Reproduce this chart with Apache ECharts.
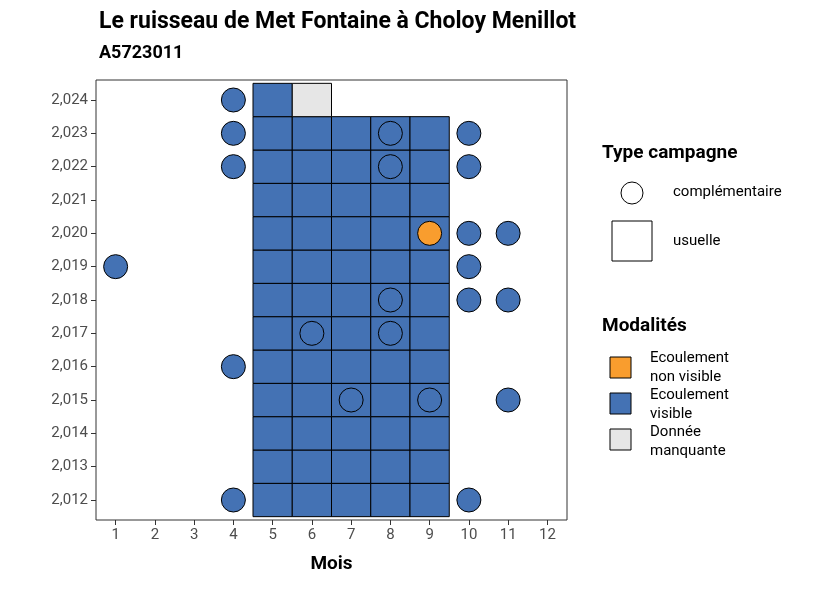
<!DOCTYPE html>
<html><head><meta charset="utf-8">
<script src="https://cdn.jsdelivr.net/npm/echarts@6/dist/echarts.min.js"></script>
<style>body{margin:0}#c{width:826px;height:590px}</style></head>
<body><div id="c"></div>
<script>
var months = [1,2,3,4,5,6,7,8,9,10,11,12];
var years = [2012,2013,2014,2015,2016,2017,2018,2019,2020,2021,2022,2023,2024];
// tiles (usuelle): [mois, annee, modalite]
var tiles = [];
years.slice(0, 12).forEach(function (y) {
    [5,6,7,8,9].forEach(function (m) { tiles.push([m, y, 'visible']); });
});
tiles.push([5, 2024, 'visible']);
tiles.push([6, 2024, 'manquante']);
// campagnes complementaires
var complVisible = [
    [4,2024],[4,2023],[8,2023],[10,2023],[4,2022],[8,2022],[10,2022],
    [10,2020],[11,2020],[1,2019],[10,2019],[8,2018],[10,2018],[11,2018],
    [6,2017],[8,2017],[4,2016],[7,2015],[9,2015],[11,2015],[4,2012],[10,2012]
];
var complNonVisible = [[9,2020]];
var colors = {visible: '#4472B4', nonvisible: '#F99D2E', manquante: '#E6E6E6'};

var chart = echarts.init(document.getElementById('c'));
var font = 'Roboto, "DejaVu Sans", sans-serif';
chart.setOption({
    animation: false,
    textStyle: {fontFamily: font},
    title: {
        text: 'Le ruisseau de Met Fontaine à Choloy Menillot',
        subtext: 'A5723011',
        left: 94, top: 6, itemGap: 10,
        textStyle: {fontSize: 23, fontWeight: 'bold', color: '#000'},
        subtextStyle: {fontSize: 18, fontWeight: 'bold', color: '#000'}
    },
    grid: {left: 96, top: 80, width: 471, height: 440, show: true, borderColor: '#333', borderWidth: 1},
    xAxis: {
        type: 'value', min: 0.5, max: 12.5,
        name: 'Mois', nameLocation: 'middle', nameGap: 35,
        nameTextStyle: {fontSize: 19, fontWeight: 'bold', color: '#000'},
        splitLine: {show: false}, axisLine: {show: false},
        axisTick: {show: true, customValues: months, lineStyle: {color: '#333'}},
        axisLabel: {customValues: months, fontSize: 15, color: '#4d4d4d'}
    },
    yAxis: {
        type: 'value', min: 2011.4, max: 2024.6,
        splitLine: {show: false}, axisLine: {show: false},
        axisTick: {show: true, customValues: years, lineStyle: {color: '#333'}},
        axisLabel: {customValues: years, fontSize: 15, color: '#4d4d4d'}
    },
    series: [{
        type: 'custom',
        data: tiles,
        clip: true,
        renderItem: function (params, api) {
            var p0 = api.coord([api.value(0) - 0.5, api.value(1) + 0.5]);
            var p1 = api.coord([api.value(0) + 0.5, api.value(1) - 0.5]);
            var mod = tiles[params.dataIndex][2];
            return {
                type: 'rect',
                shape: {x: p0[0], y: p0[1], width: p1[0] - p0[0], height: p1[1] - p0[1]},
                style: {fill: colors[mod], stroke: '#000', lineWidth: 1}
            };
        }
    }, {
        type: 'scatter', data: complVisible, symbolSize: 24,
        itemStyle: {color: colors.visible, borderColor: '#000', borderWidth: 1, opacity: 1}
    }, {
        type: 'scatter', data: complNonVisible, symbolSize: 24,
        itemStyle: {color: colors.nonvisible, borderColor: '#000', borderWidth: 1, opacity: 1}
    }],
    graphic: [
        {type: 'text', left: 602, top: 144, style: {text: 'Type campagne', font: 'bold 19px ' + font, fill: '#000'}},
        {type: 'circle', shape: {cx: 632, cy: 193, r: 11}, style: {fill: '#fff', stroke: '#000', lineWidth: 1}},
        {type: 'text', left: 673, top: 185, style: {text: 'complémentaire', font: '15px ' + font, fill: '#000'}},
        {type: 'rect', shape: {x: 612, y: 221, width: 40, height: 40}, style: {fill: '#fff', stroke: '#000', lineWidth: 1}},
        {type: 'text', left: 673, top: 234, style: {text: 'usuelle', font: '15px ' + font, fill: '#000'}},
        {type: 'text', left: 602, top: 317, style: {text: 'Modalités', font: 'bold 19px ' + font, fill: '#000'}},
        {type: 'rect', shape: {x: 610, y: 357, width: 21, height: 21}, style: {fill: colors.nonvisible, stroke: '#000', lineWidth: 1}},
        {type: 'text', left: 650, top: 349, style: {text: 'Ecoulement\nnon visible', font: '15px ' + font, lineHeight: 19, fill: '#000'}},
        {type: 'rect', shape: {x: 610, y: 393, width: 21, height: 21}, style: {fill: colors.visible, stroke: '#000', lineWidth: 1}},
        {type: 'text', left: 650, top: 386, style: {text: 'Ecoulement\nvisible', font: '15px ' + font, lineHeight: 19, fill: '#000'}},
        {type: 'rect', shape: {x: 610, y: 429, width: 21, height: 21}, style: {fill: colors.manquante, stroke: '#000', lineWidth: 1}},
        {type: 'text', left: 650, top: 423, style: {text: 'Donnée\nmanquante', font: '15px ' + font, lineHeight: 19, fill: '#000'}}
    ]
});
</script></body></html>
